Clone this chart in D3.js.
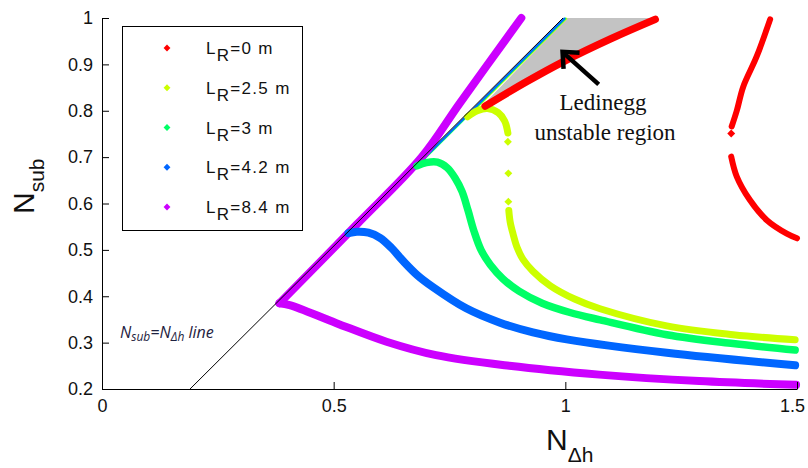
<!DOCTYPE html>
<html>
<head>
<meta charset="utf-8">
<script src="https://cdn.jsdelivr.net/npm/d3@7"></script>
<style>
  body { margin: 0; background: #fff; }
  svg { display: block; }
</style>
</head>
<body>
<svg id="chart" width="808" height="468"></svg>
<script>
// ---- data ----
var xTicks = [0, 0.5, 1, 1.5];
var yTicks = [0.2, 0.3, 0.4, 0.5, 0.6, 0.7, 0.8, 0.9, 1];

var seriesNames = ["0", "2.5", "3", "4.2", "8.4"];
var seriesColors = ["#ff0000", "#ccff00", "#00ff66", "#0066ff", "#cc00ff"];

// N_sub = N_dh reference line
var diagLine = [[0.19, 0.2], [0.995, 1.0]];

// L_R = 0 m
var red0Upper = [[0.827, 0.81], [0.917, 0.863], [0.996, 0.906], [1.1, 0.956], [1.194, 0.997]];
var red0RightTop = [[1.442, 0.997], [1.413, 0.917], [1.384, 0.852], [1.37, 0.80], [1.359, 0.766]];
var red0Dots = [[1.358, 0.751]];
var red0RightLow = [[1.358, 0.701], [1.37, 0.658], [1.398, 0.608], [1.435, 0.564], [1.478, 0.535], [1.50, 0.525]];

// L_R = 2.5 m
var yel25Diag = [[0.789, 0.787], [1.003, 1.0]];
var yel25Arc = [[0.789, 0.787], [0.81, 0.80], [0.832, 0.805], [0.855, 0.796], [0.869, 0.778], [0.876, 0.752]];
var yel25Dots = [[0.876, 0.733], [0.877, 0.665], [0.877, 0.604]];
var yel25Tail = [[0.878, 0.585], [0.881, 0.56], [0.887, 0.535], [0.896, 0.505], [0.909, 0.479],
                 [0.930, 0.454], [0.967, 0.423], [1.02, 0.394], [1.075, 0.373], [1.219, 0.336], [1.362, 0.317], [1.496, 0.306]];

// L_R = 3 m
var grn3Diag = [[0.680, 0.681], [1.001, 1.0]];
var grn3Curve = [[0.680, 0.681], [0.70, 0.688], [0.724, 0.689], [0.745, 0.677], [0.762, 0.655], [0.777, 0.626],
                 [0.790, 0.585], [0.803, 0.540], [0.818, 0.500], [0.838, 0.468], [0.865, 0.438], [0.900, 0.411],
                 [0.950, 0.385], [1.010, 0.365], [1.075, 0.349], [1.219, 0.317], [1.362, 0.298], [1.496, 0.284]];

// L_R = 4.2 m
var blu42Diag = [[0.532, 0.536], [0.999, 1.0]];
var blu42Curve = [[0.532, 0.536], [0.55, 0.539], [0.575, 0.537], [0.60, 0.526], [0.625, 0.504], [0.65, 0.476],
                  [0.68, 0.446], [0.714, 0.420], [0.786, 0.374], [0.859, 0.343], [0.930, 0.322], [1.003, 0.307],
                  [1.219, 0.278], [1.496, 0.251]];

// L_R = 8.4 m
var pur84Upper = [[0.383, 0.385], [0.55, 0.555], [0.69, 0.70], [0.772, 0.816], [0.905, 1.0]];
var pur84Lower = [[0.383, 0.385], [0.405, 0.381], [0.506, 0.342], [0.614, 0.302], [0.721, 0.273],
                  [0.879, 0.250], [1.073, 0.231], [1.289, 0.217], [1.498, 0.209]];

// grey Ledinegg unstable region
var unstableRegion = [[0.815, 0.805], [1.003, 1.0], [1.194, 1.0], [1.1, 0.956], [0.996, 0.906], [0.917, 0.863], [0.827, 0.81]];

// annotation arrow (tail, tip) in data units
var arrowPts = [[1.072, 0.857], [0.994, 0.927]];

// ---- chart ----
var svg = d3.select("#chart");

var x = d3.scaleLinear().domain([0, 1.5]).range([102, 797]);
var y = d3.scaleLinear().domain([0.2, 1]).range([389, 18]);

var line = d3.line()
    .x(function(d) { return x(d[0]); })
    .y(function(d) { return y(d[1]); })
    .curve(d3.curveCatmullRom.alpha(0.5));

var straight = d3.line()
    .x(function(d) { return x(d[0]); })
    .y(function(d) { return y(d[1]); });

// grey region
svg.append("path")
    .attr("d", straight(unstableRegion) + "Z")
    .attr("fill", "#c3c3c3");

// thin diagonal pieces of each series
var thinBranches = [
    { pts: yel25Diag, c: 1 },
    { pts: grn3Diag, c: 2 },
    { pts: blu42Diag, c: 3 }
];
thinBranches.forEach(function(b) {
    svg.append("path")
        .attr("d", straight(b.pts))
        .attr("fill", "none")
        .attr("stroke", seriesColors[b.c])
        .attr("stroke-width", 2);
});

// thick branches
var thickBranches = [
    { pts: pur84Lower, c: 4, w: 8 },
    { pts: pur84Upper, c: 4, w: 8 },
    { pts: blu42Curve, c: 3, w: 8 },
    { pts: grn3Curve, c: 2, w: 7.5 },
    { pts: yel25Arc, c: 1, w: 7 },
    { pts: yel25Tail, c: 1, w: 7 },
    { pts: red0Upper, c: 0, w: 7.5 },
    { pts: red0RightTop, c: 0, w: 6 },
    { pts: red0RightLow, c: 0, w: 6 }
];
thickBranches.forEach(function(b) {
    svg.append("path")
        .attr("d", line(b.pts))
        .attr("fill", "none")
        .attr("stroke", seriesColors[b.c])
        .attr("stroke-width", b.w)
        .attr("stroke-linecap", "round")
        .attr("stroke-linejoin", "round");
});

// isolated points
var diamond = d3.symbol().type(d3.symbolDiamond2).size(40);
var dots = yel25Dots.map(function(d) { return { p: d, c: 1 }; })
    .concat(red0Dots.map(function(d) { return { p: d, c: 0 }; }));
svg.selectAll(".dot")
    .data(dots)
    .enter().append("path")
    .attr("class", "dot")
    .attr("d", diamond)
    .attr("transform", function(d) { return "translate(" + x(d.p[0]) + "," + y(d.p[1]) + ")"; })
    .attr("fill", function(d) { return seriesColors[d.c]; });

// black reference line
svg.append("path")
    .attr("d", straight(diagLine))
    .attr("fill", "none")
    .attr("stroke", "#000")
    .attr("stroke-width", 1);

// axes (MATLAB style, ticks inward, no box)
var xAxis = d3.axisBottom(x).tickValues(xTicks).tickSizeInner(-7).tickSizeOuter(0).tickPadding(10)
    .tickFormat(d3.format("~g"));
var yAxis = d3.axisLeft(y).tickValues(yTicks).tickSizeInner(-7).tickSizeOuter(0).tickPadding(9)
    .tickFormat(d3.format("~g"));

var gx = svg.append("g").attr("transform", "translate(0," + y(0.2) + ")").call(xAxis);
var gy = svg.append("g").attr("transform", "translate(" + x(0) + ",0)").call(yAxis);
[gx, gy].forEach(function(g) {
    g.selectAll("text")
        .attr("fill", "#111")
        .style("font-family", "'Liberation Sans', Arial, sans-serif")
        .style("font-size", "18px");
    g.select(".domain").attr("stroke", "#000");
    g.selectAll(".tick line").attr("stroke", "#000");
});
// keep the last x label inside the window
gx.selectAll(".tick text").filter(function(d) { return d === 1.5; }).attr("dx", -5);

// axis titles
var xt = svg.append("text")
    .attr("x", 546).attr("y", 450)
    .style("font-family", "'Liberation Sans', Arial, sans-serif")
    .style("font-size", "30px")
    .attr("fill", "#111");
xt.append("tspan").text("N");
xt.append("tspan").attr("dy", 12).style("font-size", "21px").text("Δh");

var yt = svg.append("text")
    .attr("transform", "translate(34,214) rotate(-90)")
    .style("font-family", "'Liberation Sans', Arial, sans-serif")
    .style("font-size", "30px")
    .attr("fill", "#111");
yt.append("tspan").text("N");
yt.append("tspan").attr("dy", 10).style("font-size", "21px").text("sub");

// legend
var legend = svg.append("g");
legend.append("rect")
    .attr("x", 122.5).attr("y", 26.5)
    .attr("width", 180).attr("height", 204)
    .attr("fill", "#fff")
    .attr("stroke", "#000");

var rows = legend.selectAll(".row")
    .data(seriesNames)
    .enter().append("g")
    .attr("class", "row")
    .attr("transform", function(d, i) { return "translate(0," + (48 + i * 39.75) + ")"; });

rows.append("path")
    .attr("d", d3.symbol().type(d3.symbolDiamond2).size(30))
    .attr("transform", "translate(167,0)")
    .attr("fill", function(d, i) { return seriesColors[i]; });

var lt = rows.append("text")
    .attr("x", 206).attr("y", 6)
    .style("font-family", "'Liberation Sans', Arial, sans-serif")
    .style("font-size", "17px")
    .style("letter-spacing", "1.3px")
    .attr("fill", "#111");
lt.append("tspan").text("L");
lt.append("tspan").attr("dy", 7).text("R");
lt.append("tspan").attr("dy", -7).text(function(d) { return "=" + d + " m"; });

// Ledinegg annotation
svg.append("text")
    .attr("x", 603).attr("y", 110)
    .attr("text-anchor", "middle")
    .style("font-family", "'Liberation Serif', 'Times New Roman', serif")
    .style("font-size", "23px")
    .attr("fill", "#111")
    .text("Ledinegg");
svg.append("text")
    .attr("x", 605).attr("y", 140)
    .attr("text-anchor", "middle")
    .style("font-family", "'Liberation Serif', 'Times New Roman', serif")
    .style("font-size", "23px")
    .attr("fill", "#111")
    .text("unstable region");

var tail = [x(arrowPts[0][0]), y(arrowPts[0][1])];
var tip = [x(arrowPts[1][0]), y(arrowPts[1][1])];
svg.append("line")
    .attr("x1", tail[0]).attr("y1", tail[1])
    .attr("x2", tip[0] + 2).attr("y2", tip[1] + 2)
    .attr("stroke", "#000").attr("stroke-width", 4.5);
svg.append("path")
    .attr("d", "M" + (tip[0] + 17) + "," + (tip[1] + 1) + "L" + tip[0] + "," + tip[1] + "L" + (tip[0] + 1) + "," + (tip[1] + 17))
    .attr("fill", "none")
    .attr("stroke", "#000")
    .attr("stroke-width", 4.5)
    .attr("stroke-linejoin", "miter");

// N_sub = N_dh line label
var nl = svg.append("text")
    .attr("x", 120).attr("y", 338)
    .style("font-family", "'Open Sans', 'Noto Sans', sans-serif")
    .style("font-style", "italic")
    .style("font-size", "16px")
    .attr("fill", "#1e2240");
nl.append("tspan").text("N");
nl.append("tspan").attr("dy", 3).style("font-size", "12px").text("sub");
nl.append("tspan").attr("dy", -3).text("=N");
nl.append("tspan").attr("dy", 3).style("font-size", "12px").text("Δh");
nl.append("tspan").attr("dy", -3).text(" line");
</script>
</body>
</html>
